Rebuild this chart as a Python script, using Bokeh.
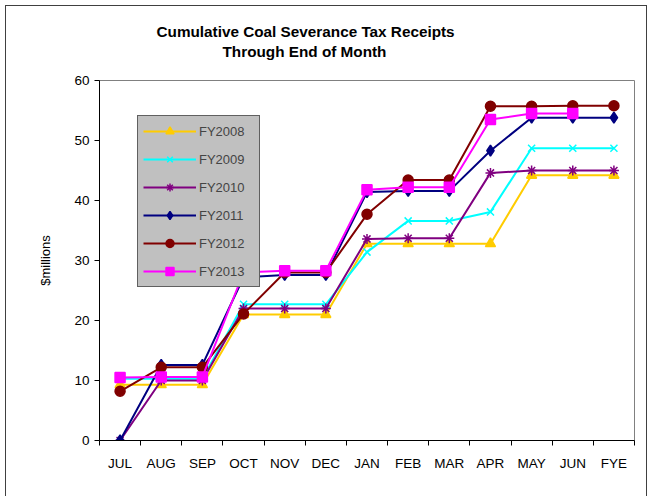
import math
from bokeh.plotting import figure
from bokeh.models import FixedTicker, Legend, LegendItem, Range1d, Title
from bokeh.embed import file_html
from bokeh.resources import INLINE

# ---- data ----
months = ["JUL", "AUG", "SEP", "OCT", "NOV", "DEC", "JAN", "FEB", "MAR", "APR", "MAY", "JUN", "FYE"]
series_names = ["FY2008", "FY2009", "FY2010", "FY2011", "FY2012", "FY2013"]
fy2008 = [9.3, 9.3, 9.3, 21.0, 21.0, 21.0, 32.8, 32.8, 32.8, 32.8, 44.2, 44.2, 44.2]
fy2009 = [10.3, 10.3, 10.3, 22.7, 22.7, 22.7, 31.4, 36.6, 36.6, 38.1, 48.7, 48.7, 48.7]
fy2010 = [0.0, 10.0, 10.0, 22.0, 22.0, 22.0, 33.6, 33.7, 33.7, 44.6, 45.0, 45.0, 45.0]
fy2011 = [0.0, 12.6, 12.6, 27.2, 27.6, 27.6, 41.4, 41.6, 41.6, 48.3, 53.8, 53.8, 53.8]
fy2012 = [8.2, 12.2, 12.2, 21.1, 28.0, 28.0, 37.7, 43.4, 43.4, 55.7, 55.7, 55.8, 55.8]
fy2013 = [10.5, 10.6, 10.6, 28.0, 28.3, 28.3, 41.8, 42.2, 42.2, 53.5, 54.5, 54.5, float("nan")]
y_ticks = [0, 10, 20, 30, 40, 50, 60]
title_lines = ["Cumulative Coal Severance Tax Receipts", "Through End of Month"]

FONT = "Liberation Sans"

p = figure(width=642, height=491, output_backend="svg", toolbar_location=None,
           x_range=Range1d(-0.5, len(months) - 0.5), y_range=Range1d(0, 60),
           min_border_left=93, min_border_right=14, min_border_top=74, min_border_bottom=57)
p.title.text = ""
p.title.visible = False
p.styles = {"margin": "5px 0 0 5px",
            "border-left": "1px solid #404040",
            "border-top": "1px solid #404040",
            "border-right": "1px solid #404040"}
p.background_fill_color = "white"
p.border_fill_color = "white"
p.outline_line_color = "#808080"
p.outline_line_width = 1
p.grid.visible = False

xs = list(range(len(months)))

styles = [
    ("#FFCC00", "triangle", 10, fy2008),
    ("#00FFFF", "x", 10, fy2009),
    ("#800080", "asterisk", 10, fy2010),
    ("#000080", "diamond", 11, fy2011),
    ("#800000", "circle", 10, fy2012),
    ("#FF00FF", "square", 10, fy2013),
]

items = []
for name, (color, marker, size, vals) in zip(series_names, styles):
    r1 = p.line(xs, vals, line_color=color, line_width=2)
    r2 = p.scatter(xs, vals, marker=marker, size=size, fill_color=color,
                   line_color=color, line_width=1.5)
    items.append(LegendItem(label=name, renderers=[r1, r2]))

# axes
xa = p.xaxis[0]
xa.ticker = FixedTicker(ticks=xs, minor_ticks=[i - 0.5 for i in range(len(months) + 1)])
xa.major_label_overrides = {i: m for i, m in enumerate(months)}
xa.major_tick_out = 0
xa.major_tick_in = 0
xa.minor_tick_out = 5
xa.minor_tick_in = 0
xa.minor_tick_line_color = "black"
xa.axis_line_color = "black"
xa.major_label_standoff = 10
xa.major_label_text_font = FONT
xa.major_label_text_font_size = "13.5px"
xa.major_label_text_color = "black"

ya = p.yaxis[0]
ya.ticker = FixedTicker(ticks=y_ticks, minor_ticks=[])
ya.major_tick_out = 5
ya.major_tick_in = 0
ya.major_tick_line_color = "black"
ya.axis_line_color = "black"
ya.major_label_standoff = 5
ya.major_label_text_font = FONT
ya.major_label_text_font_size = "13.5px"
ya.major_label_text_color = "black"
ya.axis_label = "$millions"
ya.axis_label_text_font = FONT
ya.axis_label_text_font_size = "13px"
ya.axis_label_text_font_style = "normal"
ya.axis_label_text_color = "black"
ya.axis_label_standoff = 18

legend = Legend(items=items, location=(38, 153),
                background_fill_color="#C0C0C0", background_fill_alpha=1,
                border_line_color="black", border_line_width=1,
                label_text_font=FONT, label_text_font_size="13px",
                glyph_width=53, glyph_height=20, spacing=8, padding=5,
                label_standoff=3, label_width=55, margin=0)
p.add_layout(legend)

# titles stacked above the frame (added nearest-first)
p.add_layout(Title(text=" ", text_font_size="10px", standoff=7), "above")
for txt, off in reversed(list(zip(title_lines, [57, 123]))):
    p.add_layout(Title(text=txt, align="left", offset=off, standoff=1,
                       text_font=FONT, text_font_size="15.3px",
                       text_font_style="bold", text_color="black"), "above")

open("out.html", "w").write(file_html(p, INLINE))
